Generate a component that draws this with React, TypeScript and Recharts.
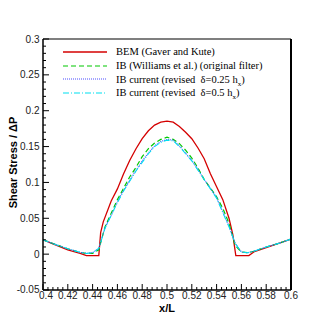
import React from 'react';
import { LineChart, Line, XAxis, YAxis, Legend, Label } from 'recharts';

// ---- data ----
const bemX = [0.40, 0.41, 0.42, 0.43, 0.435, 0.445, 0.4465, 0.4486, 0.455, 0.46, 0.465, 0.47, 0.475, 0.48, 0.485, 0.49, 0.495, 0.50, 0.505, 0.51, 0.515, 0.52, 0.525, 0.53, 0.535, 0.54, 0.545, 0.55, 0.553, 0.5555, 0.566, 0.57, 0.58, 0.59, 0.60];
const bemY = [0.020, 0.013, 0.006, 0.001, -0.002, -0.002, 0.030, 0.045, 0.074, 0.091, 0.112, 0.131, 0.147, 0.161, 0.172, 0.180, 0.184, 0.1855, 0.184, 0.178, 0.170, 0.161, 0.148, 0.133, 0.112, 0.094, 0.076, 0.050, 0.028, -0.002, -0.002, 0.003, 0.009, 0.015, 0.021];

const ibX = [0.40, 0.41, 0.42, 0.43, 0.435, 0.44, 0.445, 0.45, 0.455, 0.46, 0.465, 0.47, 0.475, 0.48, 0.485, 0.49, 0.495, 0.50, 0.505, 0.51, 0.515, 0.52, 0.525, 0.53, 0.535, 0.54, 0.545, 0.55, 0.555, 0.56, 0.565, 0.57, 0.58, 0.59, 0.60];
const williamsY = [0.020, 0.0135, 0.0075, 0.0025, 0.001, 0.001, 0.006, 0.038, 0.057, 0.076, 0.092, 0.108, 0.121, 0.136, 0.147, 0.155, 0.160, 0.163, 0.160, 0.154, 0.145, 0.134, 0.120, 0.104, 0.092, 0.080, 0.064, 0.043, 0.012, 0.003, 0.002, 0.004, 0.010, 0.015, 0.021];
const rev025Y = [0.020, 0.0135, 0.0075, 0.0025, 0.001, 0.002, 0.008, 0.037, 0.054, 0.073, 0.089, 0.103, 0.117, 0.130, 0.141, 0.151, 0.157, 0.160, 0.159, 0.151, 0.141, 0.131, 0.118, 0.104, 0.092, 0.079, 0.059, 0.039, 0.015, 0.003, 0.002, 0.004, 0.010, 0.015, 0.021];
const rev05Y = [0.020, 0.0135, 0.0075, 0.0025, 0.001, 0.002, 0.008, 0.036, 0.054, 0.072, 0.088, 0.102, 0.116, 0.128, 0.140, 0.150, 0.156, 0.159, 0.158, 0.150, 0.140, 0.130, 0.117, 0.104, 0.091, 0.078, 0.058, 0.038, 0.015, 0.003, 0.002, 0.004, 0.010, 0.015, 0.021];

const seriesNames = [
  { main: 'BEM (Gaver and Kute)', sub: '', tail: '' },
  { main: 'IB (Williams et al.) (original filter)', sub: '', tail: '' },
  { main: 'IB current (revised  \u03B4=0.25 h', sub: 'x', tail: ')' },
  { main: 'IB current (revised  \u03B4=0.5 h', sub: 'x', tail: ')' },
];

const xMajorTicks = [0.4, 0.42, 0.44, 0.46, 0.48, 0.5, 0.52, 0.54, 0.56, 0.58, 0.6];
const xMajorLabels = ['0.4', '0.42', '0.44', '0.46', '0.48', '0.5', '0.52', '0.54', '0.56', '0.58', '0.6'];
const yMajorTicks = [-0.05, 0, 0.05, 0.1, 0.15, 0.2, 0.25, 0.3];
const yMajorLabels = ['-0.05', '0', '0.05', '0.1', '0.15', '0.2', '0.25', '0.3'];

const xAllTicks = Array.from({ length: 51 }, (_, i) => +(0.4 + i * 0.004).toFixed(3));
const yAllTicks = Array.from({ length: 36 }, (_, i) => +(-0.05 + i * 0.01).toFixed(2));

const toPoints = (xs: number[], ys: number[]) => xs.map((x, i) => ({ x, y: ys[i] }));
const bemData = toPoints(bemX, bemY);
const williamsData = toPoints(ibX, williamsY);
const rev025Data = toPoints(ibX, rev025Y);
const rev05Data = toPoints(ibX, rev05Y);

const styles = [
  { color: '#d40000', dash: undefined as string | undefined, width: 1.3 },
  { color: '#00c800', dash: '5 3', width: 1.2 },
  { color: '#4c4cff', dash: '1 1', width: 1.1 },
  { color: '#00e0f0', dash: '6 2 1 2', width: 1.1 },
];

const tickFont = 'Liberation Sans, Arial, sans-serif';

const findIdx = (arr: number[], v: number) => arr.findIndex((m) => Math.abs(m - v) < 1e-6);

const XTick = (props: any) => {
  const { x, y, payload } = props;
  const idx = findIdx(xMajorTicks, payload.value);
  const major = idx >= 0;
  return (
    <g>
      <line x1={x} y1={y} x2={x} y2={y - (major ? 6 : 3)} stroke="#000" strokeWidth={1} />
      {major && (
        <text x={x + (idx === 0 ? 3 : 0)} y={y + 9.3} textAnchor="middle" fontSize={10} fontFamily={tickFont} fill="#222">
          {xMajorLabels[idx]}
        </text>
      )}
    </g>
  );
};

const YTick = (props: any) => {
  const { x, y, payload } = props;
  const idx = findIdx(yMajorTicks, payload.value);
  const major = idx >= 0;
  return (
    <g>
      <line x1={x} y1={y} x2={x + (major ? 6 : 3)} y2={y} stroke="#000" strokeWidth={1} />
      {major && (
        <text x={x - 3.5} y={y + 3.5 - (idx === 0 ? 1 : 0)} textAnchor="end" fontSize={10} fontFamily={tickFont} fill="#222">
          {yMajorLabels[idx]}
        </text>
      )}
    </g>
  );
};

const LegendContent = () => (
  <div style={{ fontFamily: 'Liberation Serif, Times New Roman, serif', fontSize: 10.5, color: '#000' }}>
    {seriesNames.map((s, i) => (
      <div key={i} style={{ display: 'flex', alignItems: 'center', height: 13.7, whiteSpace: 'pre' }}>
        <svg width={53} height={10} style={{ display: 'block', flex: 'none' }}>
          <line x1={0} y1={5} x2={44} y2={5} stroke={styles[i].color} strokeWidth={styles[i].width} strokeDasharray={styles[i].dash} />
        </svg>
        <span>
          {s.main}
          {s.sub && <sub style={{ fontSize: 7, verticalAlign: 'baseline', position: 'relative', top: 3 }}>{s.sub}</sub>}
          {s.tail}
        </span>
      </div>
    ))}
  </div>
);

const YLabel = (props: any) => {
  const vb = props.viewBox || {};
  const cx = vb.x + vb.width - 30;
  const cy = vb.y + vb.height / 2 - 2;
  return (
    <text x={cx} y={cy} transform={`rotate(-90, ${cx}, ${cy})`} textAnchor="middle" dominantBaseline="central"
      fontSize={11} fontWeight="bold" fontFamily={tickFont} fill="#000">
      Shear Stress / {'\u0394'}P
    </text>
  );
};

const XLabel = (props: any) => {
  const vb = props.viewBox || {};
  const cx = vb.x + vb.width / 2;
  const cy = vb.y + 21.5;
  return (
    <text x={cx} y={cy} textAnchor="middle" fontSize={11} fontWeight="bold" fontFamily={tickFont} fill="#000">
      x/L
    </text>
  );
};

export default function App() {
  return (
    <div style={{ position: 'absolute', left: 0, top: 0, width: 332, height: 326, background: '#fff' }}>
      <LineChart width={332} height={326} margin={{ top: 38, right: 40, left: 42, bottom: 35 }}>
        <XAxis dataKey="x" type="number" domain={[0.4, 0.6]} ticks={xAllTicks} interval={0}
          tickSize={0} tickMargin={0} tickLine={false} height={1} allowDataOverflow
          axisLine={{ stroke: '#000', strokeWidth: 1.5 }} tick={<XTick />}>
          <Label content={<XLabel />} />
        </XAxis>
        <XAxis xAxisId="top" orientation="top" dataKey="x" type="number" domain={[0.4, 0.6]} height={1}
          tick={false} tickLine={false} axisLine={{ stroke: '#000', strokeWidth: 1.2 }} />
        <YAxis type="number" domain={[-0.05, 0.3]} ticks={yAllTicks} interval={0}
          tickSize={0} tickMargin={0} tickLine={false} width={1} allowDataOverflow
          axisLine={{ stroke: '#000', strokeWidth: 1.5 }} tick={<YTick />}>
          <Label content={<YLabel />} />
        </YAxis>
        <YAxis yAxisId="right" orientation="right" type="number" domain={[-0.05, 0.3]} width={1}
          tick={false} tickLine={false} axisLine={{ stroke: '#000', strokeWidth: 2 }} />
        <Legend layout="horizontal" verticalAlign="middle" align="center" content={<LegendContent />}
          wrapperStyle={{ left: 63, top: 45, width: 230, height: 56 }} />
        <Line data={bemData} dataKey="y" name={seriesNames[0].main} stroke={styles[0].color} strokeWidth={styles[0].width}
          dot={false} isAnimationActive={false} type="linear" />
        <Line data={williamsData} dataKey="y" name={seriesNames[1].main} stroke={styles[1].color} strokeWidth={styles[1].width}
          strokeDasharray={styles[1].dash} dot={false} isAnimationActive={false} type="linear" />
        <Line data={rev025Data} dataKey="y" name={seriesNames[2].main} stroke={styles[2].color} strokeWidth={styles[2].width}
          strokeDasharray={styles[2].dash} dot={false} isAnimationActive={false} type="linear" />
        <Line data={rev05Data} dataKey="y" name={seriesNames[3].main} stroke={styles[3].color} strokeWidth={styles[3].width}
          strokeDasharray={styles[3].dash} dot={false} isAnimationActive={false} type="linear" />
      </LineChart>
    </div>
  );
}
